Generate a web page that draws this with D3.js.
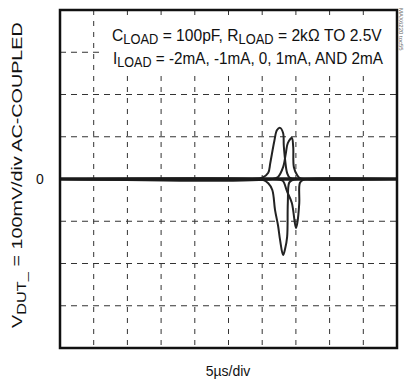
<!DOCTYPE html>
<html>
<head>
<meta charset="utf-8">
<script src="https://cdn.jsdelivr.net/npm/d3@7"></script>
<style>
  body { margin: 0; background: #fff; }
  svg { font-family: "Liberation Sans", Arial, sans-serif; }
</style>
</head>
<body>
<svg id="chart"></svg>
<script>
const width = 404;
const height = 379;
const margin = { left: 60, top: 10, right: 7, bottom: 31 };

// time in us (5us/div, 10 div), voltage in mV (100mV/div, 8 div)
const xTicks = [0, 5, 10, 15, 20, 25, 30, 35, 40, 45, 50];
const yTicks = [-400, -300, -200, -100, 0, 100, 200, 300, 400];

// traces: [us, mV]
const load0 = [[0, 0], [50, 0]];
const loadPos2 = [[0, 0], [28.5, 0], [30.0, 3], [30.9, 15], [31.2, 38], [31.8, 90], [32.2, 116], [32.65, 121], [33.1, 109], [33.2, 80], [33.4, 45], [33.7, 14], [34.1, 3], [35.5, 0], [50, 0]];
const loadPos1 = [[0, 0], [31.5, 0], [32.35, 5], [33.1, 28], [33.5, 60], [33.8, 85], [34.4, 97], [34.6, 76], [34.7, 28], [35.2, 9], [35.6, 2], [36.5, 0], [50, 0]];
const loadNeg2 = [[0, 0], [29.0, 0], [30.1, -2], [30.9, -10], [31.5, -26], [31.9, -73], [32.35, -110], [32.65, -144], [33.1, -180], [33.4, -165], [33.7, -137], [33.8, -57], [34.0, -9], [34.4, -3], [35.5, 0], [50, 0]];
const loadNeg1 = [[0, 0], [31.5, 0], [32.65, -2], [33.1, -5], [33.7, -30], [34.4, -57], [35.0, -116], [35.2, -105], [35.5, -57], [35.6, -9], [36.1, -2], [37, 0], [50, 0]];
const traces = [loadPos2, loadPos1, loadNeg2, loadNeg1];

const svg = d3.select('#chart')
    .attr('width', width)
    .attr('height', height);

const x = d3.scaleLinear().domain([0, 50]).range([margin.left, width - margin.right]);
const y = d3.scaleLinear().domain([-400, 400]).range([height - margin.bottom, margin.top]);

// dashed grid
svg.append('g')
    .selectAll('line')
    .data(xTicks.slice(1, -1))
    .enter().append('line')
    .attr('x1', d => x(d)).attr('x2', d => x(d))
    .attr('y1', y(400)).attr('y2', y(-400))
    .style('stroke', '#333')
    .style('stroke-width', 1)
    .style('stroke-dasharray', '5,6');

svg.append('g')
    .selectAll('line')
    .data(yTicks.slice(1, -1).filter(d => d !== 0))
    .enter().append('line')
    .attr('x1', x(0)).attr('x2', x(50))
    .attr('y1', d => y(d)).attr('y2', d => y(d))
    .style('stroke', '#333')
    .style('stroke-width', 1)
    .style('stroke-dasharray', '6,5');

// white box behind the note
svg.append('rect')
    .attr('x', 99)
    .attr('y', 17)
    .attr('width', x(50) - 99)
    .attr('height', 57)
    .style('fill', '#fff');

const line = d3.line()
    .x(d => x(d[0]))
    .y(d => y(d[1]))
    .curve(d3.curveCatmullRom.alpha(0.5));

svg.append('g')
    .selectAll('path')
    .data(traces)
    .enter().append('path')
    .attr('d', line)
    .style('fill', 'none')
    .style('stroke', '#222')
    .style('stroke-width', 2);

svg.append('path')
    .attr('d', line(load0))
    .style('fill', 'none')
    .style('stroke', '#1a1a1a')
    .style('stroke-width', 3.5);

// frame
svg.append('rect')
    .attr('x', x(0))
    .attr('y', y(400))
    .attr('width', x(50) - x(0))
    .attr('height', y(-400) - y(400))
    .style('fill', 'none')
    .style('stroke', '#111')
    .style('stroke-width', 2.5);

// fit a text element to a target width
function fitWidth(sel, w, x0) {
    const len = sel.node().getComputedTextLength();
    sel.attr('transform', 'translate(' + x0 + ',0) scale(' + (w / len) + ',1) translate(' + (-x0) + ',0)');
}

function subText(g, parts, xPos, yPos, size) {
    const t = g.append('text')
        .attr('x', xPos)
        .attr('y', yPos)
        .style('font-size', size + 'px')
        .style('fill', '#111');
    parts.forEach(p => {
        t.append('tspan')
            .attr('dy', p.sub ? 3.5 : (p.after ? -3.5 : 0))
            .style('font-size', p.sub ? Math.round(size * 0.8) + 'px' : null)
            .text(p.t);
    });
    return t;
}

const note1 = subText(svg, [
    { t: 'C' }, { t: 'LOAD', sub: true }, { t: ' = 100pF, R', after: true },
    { t: 'LOAD', sub: true }, { t: ' = 2k\u03A9 TO 2.5V', after: true }
], 112, 41, 17);
fitWidth(note1, 270, 112);

const note2 = subText(svg, [
    { t: 'I' }, { t: 'LOAD', sub: true }, { t: ' = -2mA, -1mA, 0, 1mA, AND 2mA', after: true }
], 113, 64, 17);
fitWidth(note2, 270, 113);

// zero label
svg.append('text')
    .attr('x', 40)
    .attr('y', y(0) + 5)
    .attr('text-anchor', 'middle')
    .style('font-size', '14px')
    .style('fill', '#111')
    .text('0');

// x label
svg.append('text')
    .attr('x', 228)
    .attr('y', 376)
    .attr('text-anchor', 'middle')
    .style('font-size', '14px')
    .style('fill', '#111')
    .text('5\u00B5s/div');

// y label
const yl = svg.append('g').attr('transform', 'translate(22,328) rotate(-90)');
const ylab = subText(yl, [
    { t: 'V' }, { t: 'DUT_', sub: true }, { t: ' = 100mV/div AC-COUPLED', after: true }
], 0, 0, 14.5);
fitWidth(ylab, 306, 0);

// part number tag
svg.append('text')
    .attr('transform', 'translate(399,8) rotate(90)')
    .style('font-size', '6px')
    .style('fill', '#666')
    .text('MAX6220 toc55');
</script>
</body>
</html>
